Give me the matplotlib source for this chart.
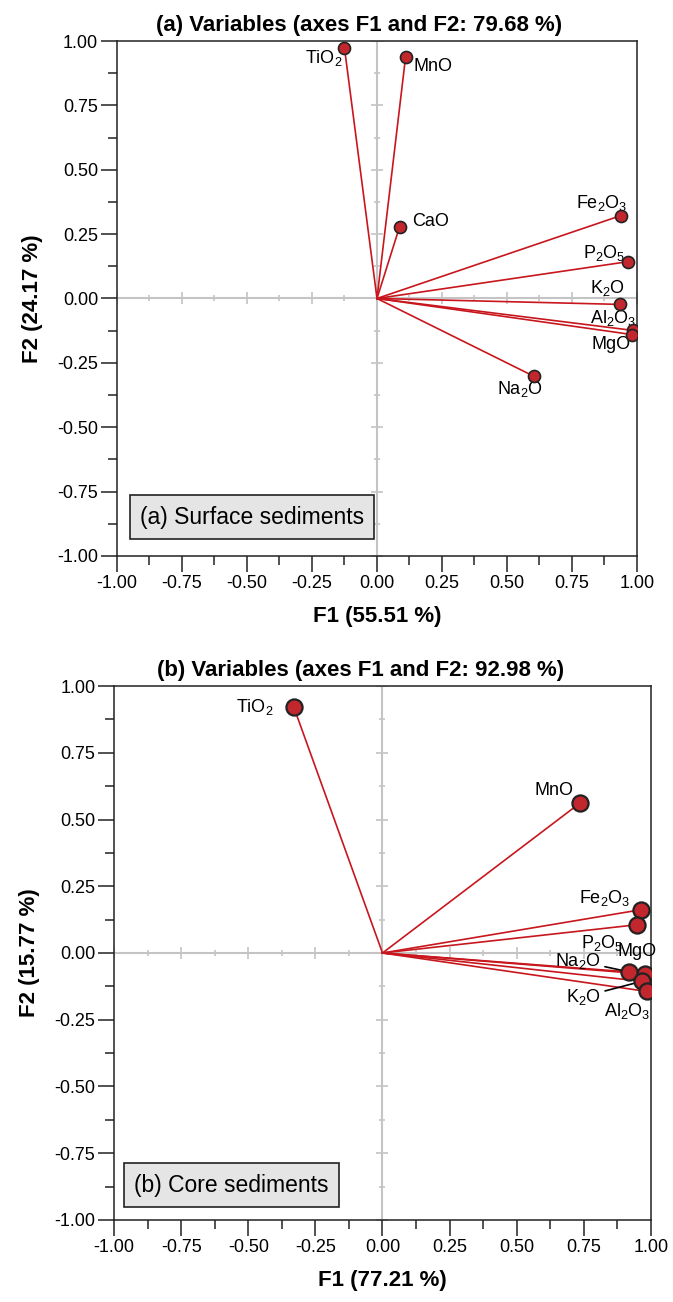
import numpy as np
import matplotlib
matplotlib.use("Agg")
import matplotlib.pyplot as plt

plt.rcParams['font.family'] = ['Liberation Sans', 'DejaVu Sans']
plt.rcParams['mathtext.fontset'] = 'custom'
plt.rcParams['mathtext.rm'] = 'Liberation Sans'
plt.rcParams['mathtext.it'] = 'Liberation Sans:italic'
plt.rcParams['mathtext.bf'] = 'Liberation Sans:bold'

# (a) surface sediments - loadings F1 / F2
noms_a = ["TiO$_2$", "MnO", "CaO", "Fe$_2$O$_3$", "P$_2$O$_5$", "K$_2$O",
          "Al$_2$O$_3$", "MgO", "Na$_2$O"]
f1_a = [-0.125, 0.11, 0.087, 0.938, 0.965, 0.934, 0.985, 0.98, 0.603]
f2_a = [0.973, 0.938, 0.279, 0.322, 0.143, -0.023, -0.124, -0.14, -0.302]

# (b) core sediments
noms_b = ["TiO$_2$", "MnO", "Fe$_2$O$_3$", "P$_2$O$_5$", "MgO", "Na$_2$O",
          "K$_2$O", "Al$_2$O$_3$"]
f1_b = [-0.33, 0.736, 0.962, 0.949, 0.978, 0.919, 0.966, 0.984]
f2_b = [0.92, 0.562, 0.162, 0.106, -0.079, -0.071, -0.106, -0.144]

# decalage des etiquettes (points), et trait de rappel ou pas
decal_a = [(-15, -7), (20, -7), (22, 3.5), (-14, 9), (-17, 6), (-9, 11.5),
           (-14, 8.6), (-15, -7), (-10, -9.4)]
decal_b = [(-28, 0), (-19, 9), (-26, 8.6), (-25, -13), (-6, 16), (-37, 8),
           (-42, -11), (-14, -14)]
rappel_b = [False, False, False, False, False, True, True, False]

rouge = "#c8161d"
rouge_pt = "#c1272d"
gris = "#c4c4c4"

fig = plt.figure(figsize=(6.73, 13.02), dpi=100)
ax1 = fig.add_axes([0.1738, 0.5730, 0.7727, 0.3955])
ax2 = fig.add_axes([0.1694, 0.0630, 0.7979, 0.4101])


def cercle(ax, noms, f1, f2, decal, rappel, taille, ep, titre, xl, yl, boite, xt, xb, yb):
    ax.set_xlim(-1, 1)
    ax.set_ylim(-1, 1)

    # croix grise au centre avec ses petits traits
    ax.axhline(0, color=gris, lw=1.5, zorder=1)
    ax.axvline(0, color=gris, lw=1.5, zorder=1)
    pos = np.arange(-1, 1.001, 0.125)
    grand = np.isclose((pos / 0.25) % 1, 0) | np.isclose((pos / 0.25) % 1, 1)
    for p, g in zip(pos, grand):
        ms = 8 if g else 5
        ax.plot(p, 0, marker='|', ms=ms, color=gris, mew=1.2, zorder=1)
        ax.plot(0, p, marker='_', ms=ms, color=gris, mew=1.2, zorder=1)

    for x, y in zip(f1, f2):
        ax.plot([0, x], [0, y], color=rouge, lw=1.2, zorder=2)
    ax.scatter(f1, f2, s=taille, color=rouge_pt, edgecolor="#222222",
               linewidths=ep, zorder=4)

    for nom, x, y, d, r in zip(noms, f1, f2, decal, rappel):
        props = None
        if r:
            props = dict(arrowstyle='-', color='black', lw=1.2,
                         shrinkA=1, shrinkB=0)
        ax.annotate(nom, (x, y), xytext=d, textcoords='offset points',
                    ha='center', va='center', fontsize=13, arrowprops=props,
                    zorder=3)

    ax.set_title(titre, fontsize=16, fontweight='bold', pad=7, x=xt)
    ax.set_xlabel(xl, fontsize=16, fontweight='bold', labelpad=10)
    ax.set_ylabel(yl, fontsize=16, fontweight='bold', labelpad=10)

    t = np.arange(-1, 1.001, 0.25)
    ax.set_xticks(t)
    ax.set_yticks(t)
    ax.set_xticklabels(["%.2f" % v for v in t])
    ax.set_yticklabels(["%.2f" % v for v in t])
    ax.set_xticks(np.arange(-0.875, 1, 0.25), minor=True)
    ax.set_yticks(np.arange(-0.875, 1, 0.25), minor=True)
    ax.tick_params(which='major', length=11.5, width=1.1, labelsize=13,
                   color="#222222", pad=2)
    ax.tick_params(which='minor', length=6.5, width=1.1, color="#222222")
    for s in ax.spines.values():
        s.set_linewidth(1.1)
        s.set_color("#222222")

    ax.text(xb, yb, boite, transform=ax.transAxes, fontsize=16.5,
            ha='left', va='center', zorder=5,
            bbox=dict(boxstyle='square,pad=0.45', fc="#e5e5e5",
                      ec="#222222", lw=1.2))


cercle(ax1, noms_a, f1_a, f2_a, decal_a, [False] * len(noms_a), 75, 1.2,
       "(a) Variables (axes F1 and F2: 79.68 %)", "F1 (55.51 %)",
       "F2 (24.17 %)", "(a) Surface sediments", 0.465, 0.044, 0.0756)
cercle(ax2, noms_b, f1_b, f2_b, decal_b, rappel_b, 135, 1.6,
       "(b) Variables (axes F1 and F2: 92.98 %)", "F1 (77.21 %)",
       "F2 (15.77 %)", "(b) Core sediments", 0.46, 0.037, 0.0655)

fig.savefig("out.png", dpi=100)
